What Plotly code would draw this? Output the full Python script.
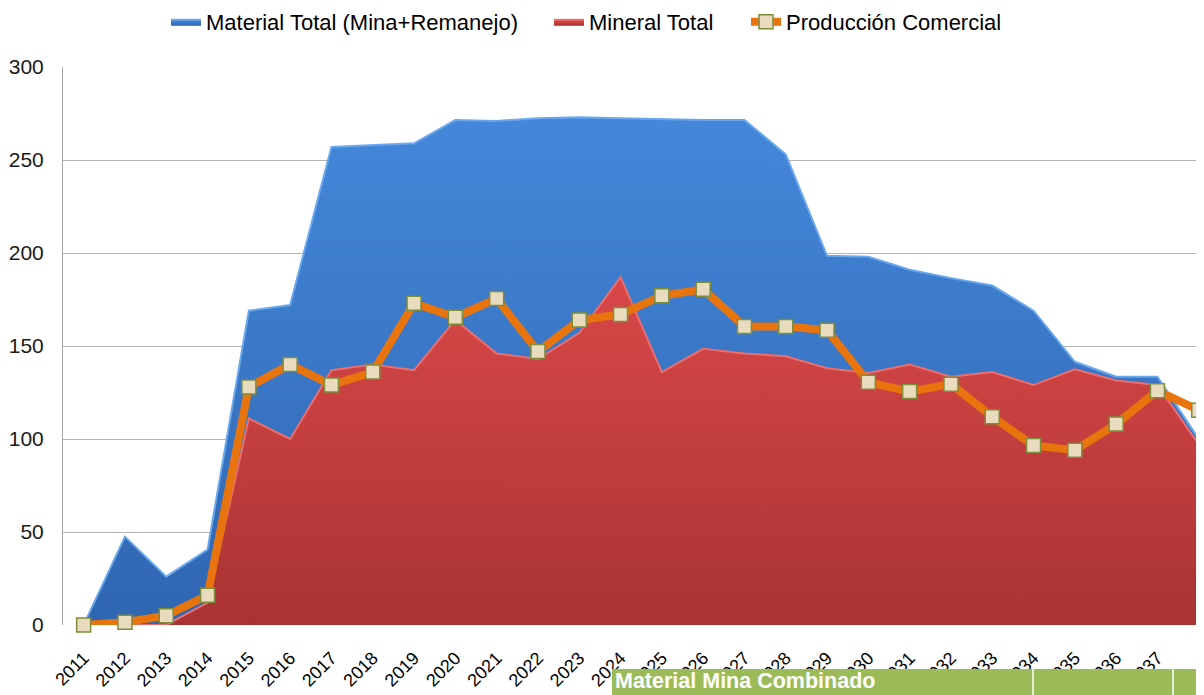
import plotly.graph_objects as go

years = list(range(2011, 2039))
tick_labels = [str(y) for y in years]

material_total = [0, 47.5, 26, 40.5, 169, 172, 257, 258, 259, 271.5, 271, 272.5, 273, 272.5,
                  272, 271.5, 271.5, 253, 198.5, 198, 191, 186.5, 182.5, 169, 141.5, 133.5, 133.5, 100]
mineral_total = [0, 0, 0, 12, 111, 100, 137, 140, 137, 164, 146, 143, 157, 187,
                 136, 148.5, 146, 144.5, 138, 135.5, 140, 133.5, 136, 129, 137.5, 131.5, 129, 97]
produccion = [0, 1.5, 5, 16, 128, 140, 129, 136, 173, 165.5, 175.5, 147, 164, 167,
              177, 180.5, 160.5, 160.5, 158.5, 130.5, 125.5, 129.5, 112, 96.5, 94, 108, 126, 115.5]

# page body has an 8px default margin: size the figure so the plot lands where the reference has it
OFF = 8
W, H = 1204 - OFF, 695 - OFF
PLOT_L, PLOT_T, PLOT_B = 63, 67, 625          # page pixels
ML, MT = PLOT_L - OFF, PLOT_T - OFF
MR = 0
PW = W - ML - MR
PH = PLOT_B - PLOT_T
MB = H - MT - PH


def px(xp):
    return (xp - PLOT_L) / PW


def py(yp):
    return (PLOT_B - yp) / PH


FONT = "Liberation Sans, Arial, sans-serif"

fig = go.Figure()

fig.add_trace(go.Scatter(
    x=years, y=material_total, name="Material Total (Mina+Remanejo)",
    mode="lines", fill="tozeroy",
    line=dict(color="#6AA8EE", width=2),
    fillcolor="#3C7BCB",
    fillgradient=dict(type="vertical", start=0, stop=280,
                      colorscale=[[0, "#2F66B2"], [1, "#4588DA"]]),
    legendwidth=338,
))
fig.add_trace(go.Scatter(
    x=years, y=mineral_total, name="Mineral Total",
    mode="lines", fill="tozeroy",
    line=dict(color="#EC6E6E", width=2),
    fillcolor="#C84040",
    fillgradient=dict(type="vertical", start=0, stop=190,
                      colorscale=[[0, "#A93333"], [1, "#DA4848"]]),
    legendwidth=152,
))
fig.add_trace(go.Scatter(
    x=years, y=produccion, name="Producción Comercial",
    mode="lines+markers",
    line=dict(color="#E8740E", width=8),
    marker=dict(symbol="square", size=14, color="#E8DBBE",
                line=dict(color="#7E8C3C", width=1.5)),
    cliponaxis=False,
))

fig.update_layout(
    width=W, height=H,
    margin=dict(l=ML, r=MR, t=MT, b=MB, autoexpand=False),
    paper_bgcolor="white", plot_bgcolor="white",
    font=dict(family=FONT, color="#000000"),
    showlegend=True,
    legend=dict(orientation="h", x=px(166), xanchor="left", y=py(22), yanchor="middle",
                font=dict(size=22, family=FONT, color="#000000"),
                itemwidth=30, tracegroupgap=0, bgcolor="rgba(0,0,0,0)"),
    xaxis=dict(range=[2010.5, 2010.5 + PW / 41.3], tickvals=years, ticktext=tick_labels,
               tickangle=-45, tickfont=dict(size=18, family=FONT, color="#000000"),
               showgrid=False, zeroline=False, showline=False, ticks="",
               ticklabelstandoff=18, automargin=False),
    yaxis=dict(range=[0, 300], dtick=50, showgrid=True, gridcolor="#B4B4B4", gridwidth=1,
               showline=True, linecolor="#A6A6A6", linewidth=1, zeroline=False,
               tickfont=dict(size=21, family=FONT, color="#1A1A1A"),
               ticklabelstandoff=14, ticks="", automargin=False),
)

# thin white strip with dotted edge at the right border (overlapping object in the reference)
fig.add_shape(type="rect", xref="paper", yref="paper",
              x0=px(1200), x1=px(1206), y0=py(625), y1=py(400),
              fillcolor="white", line=dict(width=0), layer="above")
fig.add_shape(type="line", xref="paper", yref="paper",
              x0=px(1200), x1=px(1200), y0=py(625), y1=py(400),
              line=dict(color="#9A9A9A", width=1, dash="dot"), layer="above")

# green table header overlapping the bottom of the chart
fig.add_shape(type="rect", xref="paper", yref="paper",
              x0=px(612), x1=px(1210), y0=py(669), y1=py(710),
              fillcolor="#9BBB59", line=dict(width=0), layer="above")
for xd in (1033, 1173):
    fig.add_shape(type="line", xref="paper", yref="paper",
                  x0=px(xd), x1=px(xd), y0=py(669), y1=py(700),
                  line=dict(color="white", width=1.5), layer="above")
fig.add_annotation(xref="paper", yref="paper", x=px(614), y=py(681),
                   xanchor="left", yanchor="middle", showarrow=False, borderpad=0,
                   text="<b>Material Mina Combinado</b>",
                   font=dict(family=FONT, size=21.5, color="white"))

fig.write_html("out.html")
